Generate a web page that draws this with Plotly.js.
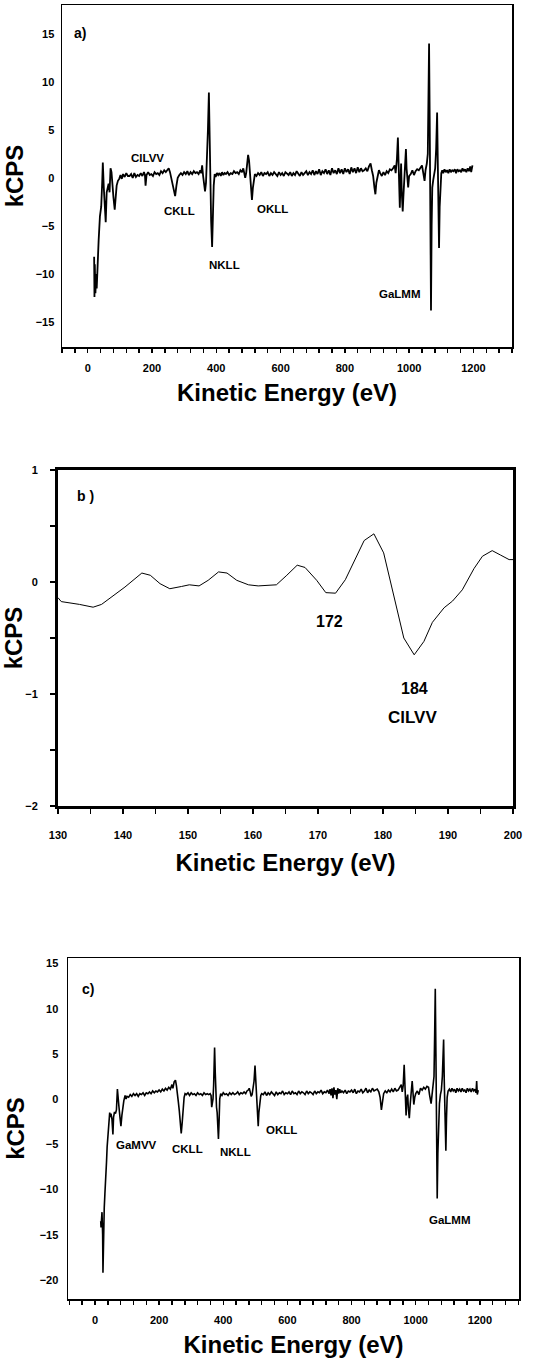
<!DOCTYPE html>
<html>
<head>
<meta charset="utf-8">
<script src="https://cdn.plot.ly/plotly-3.0.1.min.js"></script>
<style>
html,body{margin:0;padding:0;background:#fff;}
#chart{width:552px;height:1364px;}
</style>
</head>
<body>
<div id="chart"></div>
<script>
// ---- Panel a: full survey spectrum ----
const energyA = [20,21,22,24,26,28,31,34,38,42,45,47,50,53,56,59,62,65,68,71,74,77,80,84,87,90,94,98,102,106,110,115,120,125,130,135,140,145,150,155,160,165,170,175,178,180,183,188,193,198,203,208,213,218,223,228,233,238,243,248,252,256,260,264,268,272,276,280,285,290,295,300,305,310,315,320,325,330,335,340,345,350,353,356,359,362,365,368,371,374,377,379,381,384,387,389,392,395,398,402,406,410,414,418,422,426,430,435,440,445,450,455,460,465,470,475,480,484,487,490,493,496,499,502,505,508,511,514,517,520,525,530,535,540,545,550,555,560,565,570,575,580,585,590,595,600,605,610,615,620,625,630,635,640,645,650,655,660,665,670,675,680,685,690,695,700,705,710,715,720,725,730,735,740,745,750,755,760,765,770,775,780,785,790,795,800,805,810,815,820,825,830,835,840,845,850,855,860,865,870,875,880,884,888,892,895,898,902,906,910,915,920,925,930,935,940,945,950,955,958,962,965,967,969,971,973,975,977,980,982,985,988,990,992,995,997,1000,1005,1010,1015,1020,1025,1030,1035,1040,1044,1048,1051,1055,1058,1060,1062,1064,1066,1068,1070,1072,1075,1078,1081,1084,1087,1089,1091,1093,1095,1097,1100,1103,1106,1110,1114,1118,1122,1126,1130,1134,1138,1142,1146,1150,1154,1158,1162,1166,1170,1174,1178,1182,1186,1190,1193,1197];
const kcpsA = [-8.2,-12.4,-9.0,-12.0,-10.0,-11.5,-8.0,-6.5,-4.0,-3.0,-0.5,1.6,-1.0,-2.5,-4.6,-1.5,-0.8,-0.6,-1.5,1.0,0.6,-1.0,-2.0,-3.3,-2.3,-0.8,-0.3,-0.1,0.3,-0.1,0.4,0.1,0.5,0.2,0.2,0.4,0.0,0.5,0.1,0.3,0.2,0.5,0.2,0.6,0.3,-0.8,0.3,0.6,0.3,0.4,0.2,0.6,0.4,0.5,0.3,0.7,0.5,0.8,0.6,0.9,1.0,0.6,0.0,-0.5,-1.2,-1.9,-0.8,0.0,0.3,0.5,0.3,0.6,0.4,0.7,0.3,0.6,0.4,0.7,0.5,0.6,0.4,0.8,0.5,1.3,0.2,-0.8,-1.4,-0.5,1.5,5.0,8.9,4.0,-1.0,-4.5,-7.2,-4.0,-0.8,0.4,0.1,0.5,0.3,0.5,0.2,0.6,0.3,0.5,0.4,0.6,0.3,0.5,0.4,0.7,0.5,0.6,0.4,0.8,0.6,1.0,0.3,0.0,0.5,1.5,2.4,1.8,0.0,-1.5,-2.3,-1.0,0.0,0.4,0.2,0.5,0.3,0.6,0.2,0.5,0.4,0.6,0.2,0.5,0.3,0.6,0.4,0.2,0.6,0.3,0.5,0.2,0.6,0.4,0.3,0.6,0.2,0.5,0.3,0.7,0.4,0.2,0.6,0.3,0.5,0.7,0.3,0.6,0.4,0.8,0.3,0.7,0.4,0.9,0.3,0.7,0.5,0.9,0.4,0.8,0.3,1.0,0.5,0.8,0.4,1.0,0.5,0.9,0.4,1.0,0.6,0.9,0.4,1.1,0.6,1.0,0.5,1.1,0.6,1.0,0.7,0.8,1.0,0.7,1.2,1.5,0.8,0.2,-1.0,-1.7,-0.5,0.4,0.8,0.5,0.2,0.6,0.3,0.7,0.5,0.9,0.8,1.0,1.3,0.5,2.0,4.2,1.5,-1.5,-3.1,-0.5,1.5,-1.5,-3.5,-2.0,0.0,1.5,3.0,1.0,-0.5,-1.0,0.2,0.4,0.8,0.3,0.7,0.9,0.8,1.1,1.3,0.5,-0.3,0.8,1.5,2.5,8.0,14.0,6.0,-8.0,-13.8,-5.0,-1.0,-0.2,0.5,1.0,3.0,6.8,2.0,-3.0,-7.3,-3.0,-0.5,0.5,0.8,0.5,0.9,0.6,0.8,0.5,0.9,0.6,0.8,0.7,0.9,0.5,0.9,0.7,0.8,0.6,1.0,0.7,0.9,0.6,1.0,0.7,1.2,0.6,1.3];

// ---- Panel b: detail 130-200 eV ----
const energyB = [130,130.5,133.3,135.4,136.7,138,140.3,142.9,144.2,145.7,147.2,149,150.2,151.7,153.1,154.7,156,157.5,159.3,160.8,163.6,165.2,166.8,168,169.8,171.2,172.7,174.2,175.8,177.1,178.6,180.1,183.2,184.8,186.3,187.6,189.4,190.7,192.2,194,195.3,196.8,198.1,199.4,200];
const kcpsB = [-0.14,-0.175,-0.2,-0.225,-0.2,-0.145,-0.045,0.08,0.06,-0.015,-0.06,-0.04,-0.025,-0.035,0.015,0.09,0.08,0.015,-0.025,-0.035,-0.025,0.06,0.15,0.13,0.015,-0.095,-0.1,0.02,0.22,0.37,0.43,0.26,-0.5,-0.65,-0.53,-0.36,-0.23,-0.17,-0.07,0.12,0.23,0.28,0.24,0.2,0.2];

// ---- Panel c: second survey spectrum ----
const energyC = [18,19,20,22,24,25,27,29,31,33,36,38,41,44,46,48,50,53,56,58,61,64,67,70,72,75,78,81,84,87,90,94,97,100,105,110,115,120,125,130,135,140,145,150,155,160,165,170,175,180,185,190,195,200,205,210,215,220,225,230,235,240,243,247,251,254,257,260,263,266,269,272,275,278,281,285,290,295,300,305,310,315,320,325,330,335,340,345,350,355,359,362,364,366,368,370,373,375,377,379,381,383,385,387,389,392,396,400,405,410,415,420,425,430,435,440,445,450,455,460,465,470,474,478,481,484,487,490,493,496,499,501,503,505,507,509,511,514,517,520,525,530,535,540,545,550,555,560,565,570,575,580,585,590,595,600,605,610,615,620,625,630,635,640,645,650,655,660,665,670,675,680,685,690,695,700,705,710,715,720,725,730,733,736,739,742,745,748,751,754,757,760,763,766,770,775,780,785,790,795,800,805,810,815,820,825,830,835,840,845,850,855,860,865,870,875,880,885,889,893,896,900,905,910,915,920,925,930,935,940,945,950,955,958,961,964,966,968,970,972,975,977,980,983,986,989,991,994,997,1000,1005,1010,1015,1020,1025,1030,1035,1040,1043,1046,1048,1051,1054,1057,1059,1061,1063,1065,1067,1069,1071,1074,1077,1080,1083,1085,1087,1089,1091,1094,1096,1098,1101,1105,1109,1113,1117,1121,1125,1129,1133,1137,1141,1145,1149,1153,1157,1161,1165,1169,1173,1177,1181,1185,1188,1190,1192,1195];
const kcpsC = [-13.5,-14.2,-13.6,-12.5,-15.0,-19.2,-14.0,-12.0,-10.5,-9.4,-7.0,-5.3,-3.5,-2.2,-1.5,-2.0,-1.6,-2.2,-3.9,-2.0,-1.4,-1.6,-1.2,1.1,0.0,-0.9,-2.0,-3.0,-1.8,-0.6,-0.2,0.4,0.0,0.3,0.2,0.5,0.3,0.6,0.4,0.6,0.3,0.6,0.5,0.7,0.4,0.7,0.6,0.8,0.6,0.9,0.7,0.9,0.8,1.0,0.8,1.1,0.9,1.2,1.0,1.3,1.1,1.6,1.2,1.9,2.1,1.5,0.8,-0.3,-1.3,-2.5,-3.8,-2.6,-0.8,0.2,0.6,0.5,0.7,0.4,0.7,0.5,0.6,0.4,0.7,0.5,0.6,0.4,0.7,0.5,0.6,0.5,0.6,0.4,-0.9,-0.5,0.0,1.5,5.7,3.0,0.2,-0.9,-1.5,-3.0,-4.4,-2.5,0.0,0.6,0.4,0.7,0.5,0.6,0.4,0.7,0.5,0.7,0.5,0.6,0.8,0.5,0.7,0.6,0.8,0.6,0.9,1.0,1.2,0.8,0.3,0.5,1.2,2.0,3.7,2.5,0.5,-0.8,-2.2,-3.0,-1.5,-0.3,0.4,0.6,0.5,0.8,0.4,0.7,0.5,0.8,0.6,0.4,0.8,0.5,0.7,0.6,0.9,0.5,0.7,0.6,0.8,0.5,0.9,0.6,0.7,0.5,0.9,0.6,0.8,0.7,0.5,0.9,0.6,0.8,0.7,0.5,0.9,0.6,0.8,0.7,1.0,0.6,0.8,0.7,1.0,0.6,1.1,0.4,1.2,0.1,1.3,0.5,1.0,0.0,1.2,0.6,1.1,0.7,0.9,0.7,1.0,0.6,0.9,0.8,1.0,0.7,1.1,0.6,0.9,0.8,1.1,0.7,0.9,1.2,0.7,1.0,0.8,1.2,0.9,1.0,1.1,0.8,0.2,-1.2,-0.3,0.6,0.9,0.7,1.0,0.8,1.1,0.8,1.2,0.9,1.0,1.4,1.6,0.8,1.5,3.8,1.5,-0.5,-1.8,0.0,0.5,-1.0,-2.1,-0.5,0.5,2.0,1.0,-0.6,0.2,0.6,0.9,0.5,1.2,1.0,1.3,1.1,1.4,1.3,0.5,-0.3,-0.5,0.5,1.8,2.5,7.0,12.2,5.0,-5.0,-11.0,-6.0,-2.4,-0.5,0.5,1.0,2.5,4.5,6.6,2.0,-1.0,-5.7,-2.0,0.2,0.9,1.1,0.8,1.2,0.9,1.1,0.7,1.2,0.9,1.1,0.8,1.2,0.9,1.0,0.7,1.2,0.9,1.1,0.8,1.2,0.9,1.1,0.7,2.0,0.5,1.0];

// ---- Text labels ----
const xTitle = 'Kinetic Energy (eV)';
const yTitle = 'kCPS';
const surveyTicks = [0,200,400,600,800,1000,1200];
const labelsA = [
  {text:'a)', x:-25, y:15.1, size:14},
  {text:'ClLVV', x:187, y:2.1, size:11.5},
  {text:'CKLL', x:284, y:-3.4, size:11.5},
  {text:'NKLL', x:427, y:-9.1, size:11.5},
  {text:'OKLL', x:574, y:-3.2, size:11.5},
  {text:'GaLMM', x:973, y:-12.1, size:11.5}
];
const labelsB = [
  {text:'b )', x:134.2, y:0.77, size:14},
  {text:'172', x:171.7, y:-0.35, size:16},
  {text:'184', x:184.9, y:-0.95, size:16},
  {text:'ClLVV', x:184.5, y:-1.21, size:17}
];
const labelsC = [
  {text:'c)', x:-22, y:12.2, size:14},
  {text:'GaMVV', x:131, y:-5.1, size:11.5},
  {text:'CKLL', x:290, y:-5.5, size:11.5},
  {text:'NKLL', x:439, y:-5.9, size:11.5},
  {text:'OKLL', x:583, y:-3.4, size:11.5},
  {text:'GaLMM', x:1106, y:-13.4, size:11.5}
];

const FONT = 'Liberation Sans, Arial, Helvetica, sans-serif';
const H = 1364, W = 552;
const px = v => v / W;
const py = v => 1 - v / H;

const traces = [
  {x: energyA, y: kcpsA, xaxis:'x', yaxis:'y', mode:'lines', line:{color:'#000', width:1.8}, hoverinfo:'skip'},
  {x: energyB, y: kcpsB, xaxis:'x2', yaxis:'y2', mode:'lines', line:{color:'#000', width:1.0}, hoverinfo:'skip'},
  {x: energyC, y: kcpsC, xaxis:'x3', yaxis:'y3', mode:'lines', line:{color:'#000', width:1.6}, hoverinfo:'skip'}
];

function titleObj(text, standoff) {
  return {text: text, font:{family:FONT, size:24, color:'#000', weight:'bold'}, standoff: standoff};
}
const tickFont = {family:FONT, size:11, color:'#000', weight:'bold'};

const layout = {
  width: W, height: H,
  margin:{l:0, r:0, t:0, b:0},
  paper_bgcolor:'#fff', plot_bgcolor:'#fff',
  showlegend:false,
  font:{family:FONT, color:'#000'},
  // panel a
  xaxis:{domain:[px(62), px(512)], anchor:'y', range:[-80,1320], tickmode:'array', tickvals:surveyTicks,
    ticks:'outside', ticklen:4, tickwidth:1.5, tickcolor:'#000', ticklabelstandoff:6,
    minor:{dtick:40, tick0:0, ticks:'outside', ticklen:4, tickwidth:1.5, tickcolor:'#000'},
    showline:true, linecolor:'#000', linewidth:1.5, mirror:true, showgrid:false, zeroline:false,
    tickfont:tickFont, title:titleObj(xTitle, 11), automargin:false},
  yaxis:{domain:[py(347), py(5)], anchor:'x', range:[-17.6,18], tickmode:'array', tickvals:[-15,-10,-5,0,5,10,15],
    ticks:'', ticklabelstandoff:4,
    showline:true, linecolor:'#000', linewidth:1.5, mirror:true, showgrid:false, zeroline:false,
    tickfont:tickFont, title:titleObj(yTitle, 5), automargin:false},
  // panel b
  xaxis2:{domain:[px(58), px(513)], anchor:'y2', range:[130,200], tickmode:'array', tickvals:[130,140,150,160,170,180,190,200],
    ticks:'outside', ticklen:5, tickwidth:1.5, tickcolor:'#000', ticklabelstandoff:12,
    minor:{dtick:5, tick0:130, ticks:'outside', ticklen:5, tickwidth:1.5, tickcolor:'#000'},
    showline:true, linecolor:'#000', linewidth:3, mirror:true, showgrid:false, zeroline:false,
    tickfont:tickFont, title:titleObj(xTitle, 14), automargin:false},
  yaxis2:{domain:[py(806), py(470)], anchor:'x2', range:[-2,1], tickmode:'array', tickvals:[-2,-1,0,1],
    ticks:'outside', ticklen:5, tickwidth:1.5, tickcolor:'#000', ticklabelstandoff:10,
    minor:{dtick:0.5, tick0:0, ticks:'outside', ticklen:5, tickwidth:1.5, tickcolor:'#000'},
    showline:true, linecolor:'#000', linewidth:3, mirror:true, showgrid:false, zeroline:false,
    tickfont:tickFont, title:titleObj(yTitle, 6), automargin:false},
  // panel c
  xaxis3:{domain:[px(68), px(519)], anchor:'y3', range:[-84,1322], tickmode:'array', tickvals:surveyTicks,
    ticks:'outside', ticklen:4, tickwidth:1.5, tickcolor:'#000', ticklabelstandoff:6,
    minor:{dtick:40, tick0:0, ticks:'outside', ticklen:4, tickwidth:1.5, tickcolor:'#000'},
    showline:true, linecolor:'#000', linewidth:1.5, mirror:true, showgrid:false, zeroline:false,
    tickfont:tickFont, title:titleObj(xTitle, 11), automargin:false},
  yaxis3:{domain:[py(1299), py(958)], anchor:'x3', range:[-22.1,15.6], tickmode:'array', tickvals:[-20,-15,-10,-5,0,5,10,15],
    ticks:'', ticklabelstandoff:6,
    showline:true, linecolor:'#000', linewidth:1.5, mirror:true, showgrid:false, zeroline:false,
    tickfont:tickFont, title:titleObj(yTitle, 8), automargin:false},
  annotations: []
};

function addLabels(list, xref, yref) {
  list.forEach(l => layout.annotations.push({
    text: l.text, x: l.x, y: l.y, xref: xref, yref: yref, showarrow:false,
    xanchor:'center', yanchor:'middle',
    font:{family:FONT, size:l.size, color:'#000', weight:'bold'}
  }));
}
addLabels(labelsA, 'x', 'y');
addLabels(labelsB, 'x2', 'y2');
addLabels(labelsC, 'x3', 'y3');

Plotly.newPlot('chart', traces, layout, {displayModeBar:false, staticPlot:true});
</script>
</body>
</html>
